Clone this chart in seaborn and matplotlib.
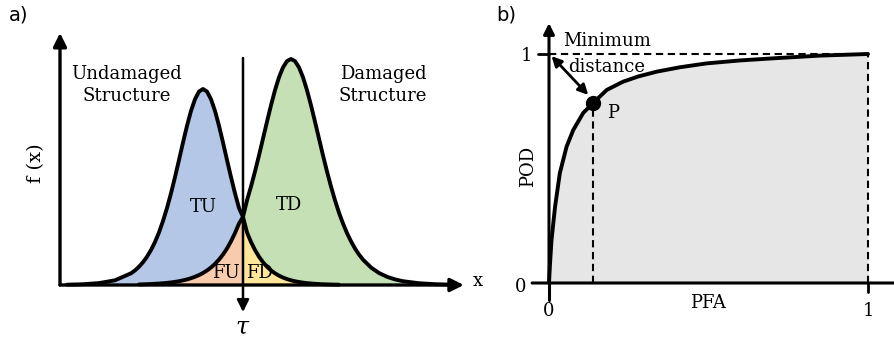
import numpy as np
import pandas as pd
import matplotlib
matplotlib.use("Agg")
import matplotlib.pyplot as plt
import seaborn as sns

# ---------------- panel a: densities of the damage feature ----------------
x_vals = [1, 3, 5, 7, 9, 9.5, 10, 10.5, 11, 11.5, 12, 12.5, 13, 13.5, 14, 14.5,
          15, 15.5, 16, 16.5, 17, 17.5, 18, 18.5, 19, 19.5, 20, 20.5, 21, 21.5,
          22, 22.5, 23, 23.5, 24, 24.5, 25, 25.5, 26, 26.5, 27, 27.5, 28, 28.5,
          29, 29.5, 30, 30.5, 31, 31.5, 32, 32.5, 33, 33.5, 34, 34.5, 35, 35.5,
          36, 36.5, 37, 37.5, 38, 39, 40, 41, 42, 43, 45, 47, 49]
f_undamaged = [0.003, 0.0075, 0.019, 0.047, 0.117, 0.146, 0.183, 0.228, 0.283, 0.350,
               0.430, 0.526, 0.640, 0.770, 0.917, 1.079, 1.250, 1.425, 1.592, 1.741,
               1.858, 1.934, 1.960, 1.934, 1.858, 1.741, 1.592, 1.425, 1.250, 1.079,
               0.917, 0.770, 0.680, 0.526, 0.430, 0.350, 0.283, 0.228, 0.183, 0.146,
               0.117, 0.0934, 0.0745, 0.0592, 0.047, 0.0375, 0.030, 0.0236, 0.019, 0.0150,
               0.012, 0.0094, 0.0075, 0.0059, 0.0047, 0.0037, 0.003, 0.0024, 0.0019, 0.0015,
               0.0012, 0.0009, 0.0008, 0.0005, 0.0003, 0.0002, 0.0001, 0.0001, 0.0, 0.0, 0.0]
f_damaged = [0.0002, 0.0004, 0.0008, 0.0017, 0.0037, 0.0045, 0.0054, 0.0066, 0.0080, 0.0098,
             0.0119, 0.0144, 0.0175, 0.0213, 0.0258, 0.0313, 0.0380, 0.0461, 0.0559, 0.0678,
             0.0823, 0.0994, 0.120, 0.145, 0.175, 0.211, 0.254, 0.305, 0.365, 0.437,
             0.519, 0.615, 0.680, 0.847, 0.985, 1.135, 1.296, 1.464, 1.633, 1.797,
             1.948, 2.077, 2.176, 2.239, 2.260, 2.239, 2.176, 2.077, 1.948, 1.797,
             1.633, 1.464, 1.296, 1.135, 0.985, 0.847, 0.723, 0.615, 0.519, 0.437,
             0.365, 0.305, 0.254, 0.175, 0.120, 0.0823, 0.0559, 0.038, 0.0175, 0.0080, 0.0037]
tau = 23
undamaged_end = 35     # last x where the undamaged curve is drawn
damaged_start = 10     # first x where the damaged curve is drawn

# ---------------- panel b: ROC curve ----------------
pfa = [0.0, 0.003, 0.008, 0.019, 0.034, 0.055, 0.076, 0.107, 0.138, 0.181, 0.232,
       0.28, 0.338, 0.41, 0.494, 0.6, 0.702, 0.85, 1.0]
pod = [0.0, 0.08, 0.19, 0.333, 0.48, 0.595, 0.668, 0.742, 0.786, 0.843, 0.879,
       0.902, 0.923, 0.942, 0.959, 0.972, 0.981, 0.993, 1.0]
p_pfa, p_pod = 0.138, 0.786

c_tu, c_td, c_fu, c_fd = "#b4c7e7", "#c5e0b4", "#f8cbad", "#ffe699"
c_area = "#e7e6e6"

sns.set_theme(style="white")
plt.rcParams["font.family"] = ["DejaVu Serif"]
plt.rcParams["mathtext.fontset"] = "dejavuserif"
plt.rcParams["text.color"] = "black"

fig = plt.figure(figsize=(8.94, 3.40), dpi=100)
ax1 = fig.add_axes([0, 0, 1, 1])
ax2 = fig.add_axes([0, 0, 1, 1])
for ax in (ax1, ax2):
    ax.set_axis_off()
    ax.patch.set_visible(False)

ax1.set_xlim(-7.375, 104.375)
ax1.set_ylim(-0.55, 2.85)
ax2.set_xlim(-1.7210, 1.0815)
ax2.set_ylim(-0.2489, 1.2358)

df = pd.DataFrame({"x": x_vals, "undamaged": f_undamaged, "damaged": f_damaged})
xa = df["x"].to_numpy()
fu = df["undamaged"].to_numpy()
fd = df["damaged"].to_numpy()
left = xa <= tau
right = xa >= tau

# coloured regions
ax1.fill_between(xa, fd, fu, where=left, color=c_tu, lw=0, zorder=1)
ax1.fill_between(xa, 0, fd, where=left & (xa >= damaged_start), color=c_fu, lw=0, zorder=1)
ax1.fill_between(xa, fu, fd, where=right, color=c_td, lw=0, zorder=1)
ax1.fill_between(xa, 0, fu, where=right & (xa <= undamaged_end), color=c_fd, lw=0, zorder=1)

d_u = df[df["x"] <= undamaged_end]
d_d = df[df["x"] >= damaged_start]
line_kw = dict(color="black", lw=2.8, zorder=4, solid_joinstyle="round",
               solid_capstyle="round")
sns.lineplot(data=d_u, x="x", y="undamaged", ax=ax1, **line_kw)
sns.lineplot(data=d_d, x="x", y="damaged", ax=ax1, **line_kw)
ax1.set_axis_off()

arrow_kw = dict(arrowstyle="-|>", color="black", shrinkA=0, shrinkB=0)
ax1.annotate("", xy=(0.125, 2.52), xytext=(0.125, 0), annotation_clip=False,
             arrowprops=dict(lw=2.4, mutation_scale=20, **arrow_kw), zorder=5)
ax1.annotate("", xy=(50.6, 0), xytext=(0.125, 0), annotation_clip=False,
             arrowprops=dict(lw=2.4, mutation_scale=20, **arrow_kw), zorder=5)
ax1.annotate("", xy=(tau, -0.27), xytext=(tau, 2.27), annotation_clip=False,
             arrowprops=dict(lw=1.8, mutation_scale=18, **arrow_kw), zorder=5)

fs = 13
ax1.text(8.5, 2.0, "Undamaged\nStructure", ha="center", va="center", fontsize=fs,
         linespacing=1.25)
ax1.text(40.5, 2.0, "Damaged\nStructure", ha="center", va="center", fontsize=fs,
         linespacing=1.25)
ax1.text(-2.9, 1.22, "f (x)", ha="center", va="center", rotation=90, fontsize=fs + 1)
ax1.text(52.4, 0.04, "x", ha="center", va="center", fontsize=fs)
ax1.text(tau, -0.42, r"$\tau$", ha="center", va="center", fontsize=fs + 4)
ax1.text(18, 0.78, "TU", ha="center", va="center", fontsize=fs, zorder=6)
ax1.text(28.75, 0.80, "TD", ha="center", va="center", fontsize=fs, zorder=6)
ax1.text(20.9, 0.12, "FU", ha="center", va="center", fontsize=fs, zorder=6)
ax1.text(25.1, 0.12, "FD", ha="center", va="center", fontsize=fs, zorder=6)
ax1.text(-5.0, 2.70, "a)", ha="center", va="center", fontsize=14, family="DejaVu Sans")

# ---------------- panel b ----------------
roc = pd.DataFrame({"PFA": pfa, "POD": pod})
ax2.fill_between(roc["PFA"], 0, roc["POD"], color=c_area, lw=0, zorder=1)
sns.lineplot(data=roc, x="PFA", y="POD", ax=ax2, sort=False, **line_kw)
ax2.set_axis_off()

dash = dict(color="black", lw=1.5, ls=(0, (3.5, 2.2)), zorder=3)
ax2.plot([0, 1], [1, 1], **dash)
ax2.plot([1, 1], [0, 1], **dash)
ax2.plot([p_pfa, p_pfa], [0, p_pod], **dash)
ax2.plot([1, 1], [-0.04, 0], color="black", lw=2.0, zorder=3)
ax2.plot([-0.034, 0], [1, 1], color="black", lw=2.0, zorder=3)
ax2.plot([0, 0], [-0.074, 0], color="black", lw=2.2, zorder=3)

ax2.annotate("", xy=(0, 1.135), xytext=(0, 0), annotation_clip=False,
             arrowprops=dict(lw=2.2, mutation_scale=16, **arrow_kw), zorder=5)
ax2.annotate("", xy=(1.125, 0), xytext=(-0.053, 0), annotation_clip=False,
             arrowprops=dict(lw=2.2, mutation_scale=16, **arrow_kw), zorder=5)
ax2.annotate("", xy=(0.008, 0.991), xytext=(0.123, 0.821), annotation_clip=False,
             arrowprops=dict(arrowstyle="<|-|>", color="black", lw=2.0,
                             mutation_scale=15, shrinkA=0, shrinkB=0), zorder=5)
ax2.plot([p_pfa], [p_pod], "o", color="black", ms=10, zorder=6)

ax2.text(-0.069, 0.99, "1", ha="center", va="center", fontsize=fs)
ax2.text(-0.088, -0.017, "0", ha="center", va="center", fontsize=fs)
ax2.text(0, -0.122, "0", ha="center", va="center", fontsize=fs)
ax2.text(1, -0.122, "1", ha="center", va="center", fontsize=fs)
ax2.text(0.498, -0.087, "PFA", ha="center", va="center", fontsize=fs)
ax2.text(-0.066, 0.507, "POD", ha="center", va="center", rotation=90, fontsize=fs)
ax2.text(0.182, 1.057, "Minimum", ha="center", va="center", fontsize=fs)
ax2.text(0.182, 0.943, "distance", ha="center", va="center", fontsize=fs)
ax2.text(0.20, 0.742, "P", ha="center", va="center", fontsize=fs)
ax2.text(-0.135, 1.17, "b)", ha="center", va="center", fontsize=14, family="DejaVu Sans")

fig.savefig("out.png", dpi=100)
